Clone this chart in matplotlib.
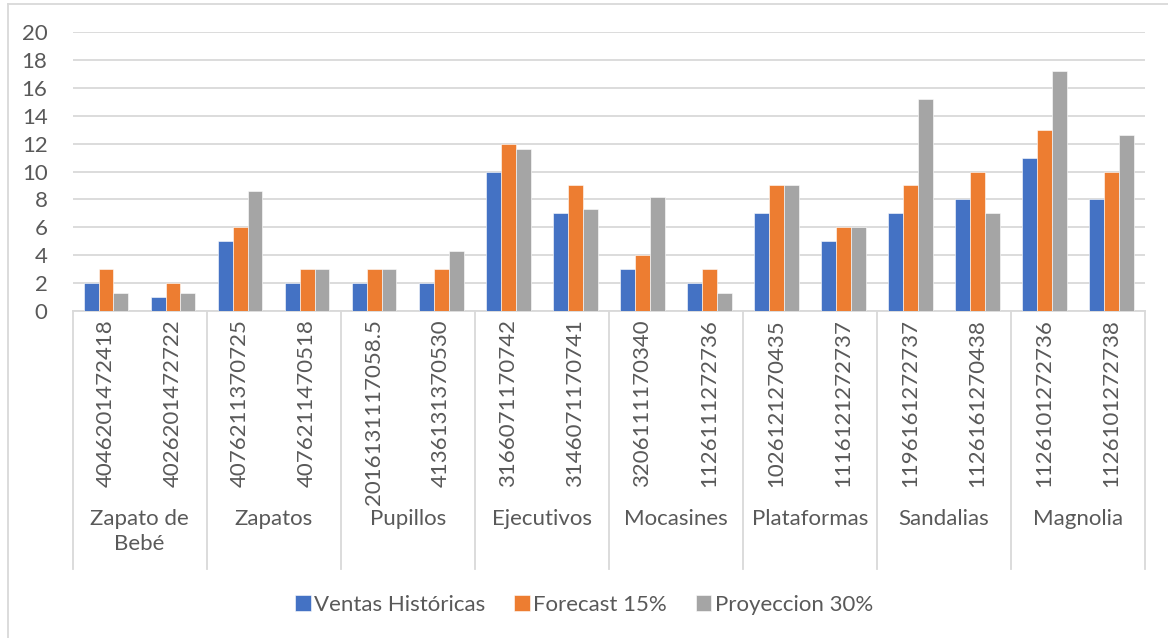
import matplotlib.pyplot as plt
import numpy as np
from matplotlib.lines import Line2D

plt.rcParams['font.family'] = ['Lato', 'DejaVu Sans']

groups = ["Zapato de\nBebé", "Zapatos", "Pupillos", "Ejecutivos",
          "Mocasines", "Plataformas", "Sandalias", "Magnolia"]
codes = ["4046201472418", "4026201472722", "4076211370725", "4076211470518",
         "2016131117058.5", "4136131370530", "3166071170742", "3146071170741",
         "3206111170340", "1126111272736", "1026121270435", "1116121272737",
         "1196161272737", "1126161270438", "1126101272736", "1126101272738"]
ventas = [2, 1, 5, 2, 2, 2, 10, 7, 3, 2, 7, 5, 7, 8, 11, 8]
forecast = [3, 2, 6, 3, 3, 3, 12, 9, 4, 3, 9, 6, 9, 10, 13, 10]
proyeccion = [1.3, 1.3, 8.6, 3, 3, 4.3, 11.6, 7.3, 8.2, 1.3, 9, 6, 15.2, 7, 17.2, 12.6]

series = [("Ventas Históricas", ventas, "#4472C4"),
          ("Forecast 15%", forecast, "#ED7D31"),
          ("Proyeccion 30%", proyeccion, "#A5A5A5")]

txt = "#595959"
line_c = "#d9d9d9"
fs = 16

W, H = 1168, 638
fig = plt.figure(figsize=(W / 100, H / 100), dpi=100)
ax = fig.add_axes([72.5 / W, (H - 311) / H, (1145 - 72.5) / W, 279 / H])

x = np.arange(len(codes))
bw = 1 / 4.5
for k, (name, vals, col) in enumerate(series):
    ax.bar(x + (k - 1) * bw, vals, width=bw, color=col, label=name,
           edgecolor="white", linewidth=0.4, zorder=3)

ax.set_xlim(-0.5, len(codes) - 0.5)
ax.set_ylim(0, 20)
ax.set_yticks(range(0, 21, 2))
ax.tick_params(axis="y", length=0, pad=18, labelsize=fs, labelcolor=txt)
ax.set_xticks([])
ax.yaxis.grid(True, color=line_c, linewidth=1.3, zorder=0)
for s in ["top", "right", "left"]:
    ax.spines[s].set_visible(False)
ax.spines["bottom"].set_color(line_c)
ax.spines["bottom"].set_linewidth(1.3)

# two-level category axis: product codes and their group names
tr = ax.get_xaxis_transform()
for i, c in enumerate(codes):
    ax.text(i, -0.03, c, rotation=90, ha="center", va="top",
            fontsize=fs, color=txt, transform=tr)
for g, name in enumerate(groups):
    ax.text(2 * g + 0.5, -0.71, name, ha="center", va="top", fontsize=fs,
            color=txt, linespacing=1.3, transform=tr)
for b in np.arange(-0.5, len(codes), 2):
    ax.add_line(Line2D([b, b], [0, -0.925], color=line_c, linewidth=1.3,
                       transform=tr, clip_on=False))

fig.legend(loc="center", bbox_to_anchor=(0.5, 1 - 605 / H), ncol=3,
           frameon=False, fontsize=fs, labelcolor=txt, handlelength=0.7,
           handleheight=0.7, handletextpad=0.15, columnspacing=1.3)

# chart frame
fig.add_artist(Line2D([7.5 / W, 7.5 / W], [0, 1 - 3.5 / H], color=line_c,
                      linewidth=1.3, transform=fig.transFigure))
fig.add_artist(Line2D([7.5 / W, 1], [1 - 3.5 / H, 1 - 3.5 / H], color=line_c,
                      linewidth=1.3, transform=fig.transFigure))

fig.savefig("out.png", dpi=100)
